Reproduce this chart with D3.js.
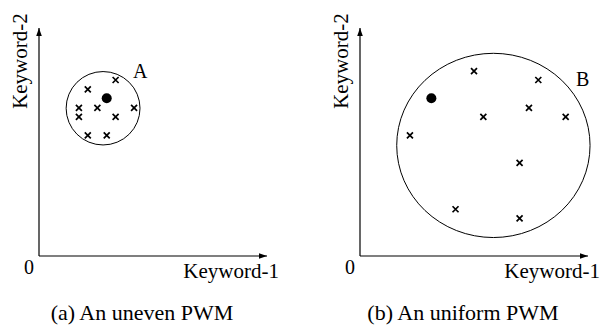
<!DOCTYPE html>
<html>
<head>
<meta charset="utf-8">
<script src="https://cdn.jsdelivr.net/npm/d3@7"></script>
<style>
body { margin: 0; background: #fff; }
</style>
</head>
<body>
<script>
// data, in keyword units (0..100 on both axes)
var panels = ["a", "b"];
var captions = ["(a) An uneven PWM", "(b) An uniform PWM"];
var clusterNames = ["A", "B"];
var axisLabels = ["Keyword-1", "Keyword-2"];
var crossesA = [[33.6,77.2],[21.4,73.1],[17.5,65.0],[25.6,65.0],[41.7,65.0],[17.5,61.0],[33.6,61.0],[21.4,52.9],[29.7,52.9]];
var crossesB = [[50.0,81.1],[78.2,77.2],[74.1,65.0],[54.1,61.0],[90.2,61.0],[21.9,52.9],[70.0,40.8],[41.9,20.5],[70.0,16.5]];
var centroids = [[29.7,69.2],[31.3,69.2]];
// cluster boundary: cx, cy, rx, ry
var boundaries = [[28.1,64.8,16.2,16.1],[58.5,48.5,42.4,40.4]];

var svgwidth = 602, svgheight = 327;
var origin = [{x:39,y:256},{x:360,y:256}];
var plotsize = 228;
var captionX = [142, 463];
var serif = "'Liberation Serif', 'Times New Roman', Times, serif";

var svg = d3.select("body").append("svg")
	.attr("width", svgwidth)
	.attr("height", svgheight)
	.attr("font-family", serif);

svg.append("defs").append("marker")
	.attr("id", "arrow")
	.attr("viewBox", "0 0 10 10")
	.attr("refX", 10).attr("refY", 5)
	.attr("markerWidth", 8).attr("markerHeight", 8)
	.attr("markerUnits", "userSpaceOnUse")
	.attr("orient", "auto")
	.append("path")
	.attr("d", "M0,1.5L10,5L0,8.5Z")
	.attr("fill", "#000");

var allCrosses = [crossesA, crossesB];

for (var i = 0; i < 2; i++) {
	var x = d3.scaleLinear().domain([0,100]).range([0, plotsize]);
	var y = d3.scaleLinear().domain([0,100]).range([0, -plotsize]);

	var g = svg.append("g").attr("id", "g" + panels[i])
		.attr("transform", "translate(" + origin[i].x + "," + origin[i].y + ")");

	// axes
	g.append("line").attr("x1", 0).attr("y1", 0).attr("x2", x(100)).attr("y2", 0)
		.attr("stroke", "#000").attr("stroke-width", 1.2).attr("marker-end", "url(#arrow)");
	g.append("line").attr("x1", 0).attr("y1", 0).attr("x2", 0).attr("y2", y(100))
		.attr("stroke", "#000").attr("stroke-width", 1.2).attr("marker-end", "url(#arrow)");

	g.append("text").attr("x", -10).attr("y", 18).attr("text-anchor", "middle")
		.attr("font-size", 20).text("0");
	g.append("text").attr("x", x(100) + 12).attr("y", 22).attr("text-anchor", "end")
		.attr("font-size", 21).text(axisLabels[0]);
	g.append("text").attr("transform", "translate(-12," + y(85.5) + ") rotate(-90)")
		.attr("text-anchor", "middle")
		.attr("font-size", 21).text(axisLabels[1]);

	var b = boundaries[i];
	g.append("ellipse")
		.attr("cx", x(b[0])).attr("cy", y(b[1]))
		.attr("rx", x(b[2])).attr("ry", -y(b[3]))
		.attr("fill", "none").attr("stroke", "#000").attr("stroke-width", 1);

	g.selectAll(".cross").data(allCrosses[i]).enter().append("path")
		.attr("class", "cross")
		.attr("d", function(d) {
			var cx = x(d[0]), cy = y(d[1]), s = 3;
			return "M" + (cx-s) + "," + (cy-s) + "L" + (cx+s) + "," + (cy+s) +
				"M" + (cx-s) + "," + (cy+s) + "L" + (cx+s) + "," + (cy-s);
		})
		.attr("stroke", "#000").attr("stroke-width", 1.7);

	g.append("circle")
		.attr("cx", x(centroids[i][0])).attr("cy", y(centroids[i][1]))
		.attr("r", 5).attr("fill", "#000");

	svg.append("text")
		.attr("x", captionX[i]).attr("y", 320)
		.attr("text-anchor", "middle")
		.attr("font-size", 22).text(captions[i]);
}

svg.append("text").attr("x", 133).attr("y", 78).attr("font-size", 20).text(clusterNames[0]);
svg.append("text").attr("x", 576).attr("y", 86).attr("font-size", 20).text(clusterNames[1]);
</script>
</body>
</html>
